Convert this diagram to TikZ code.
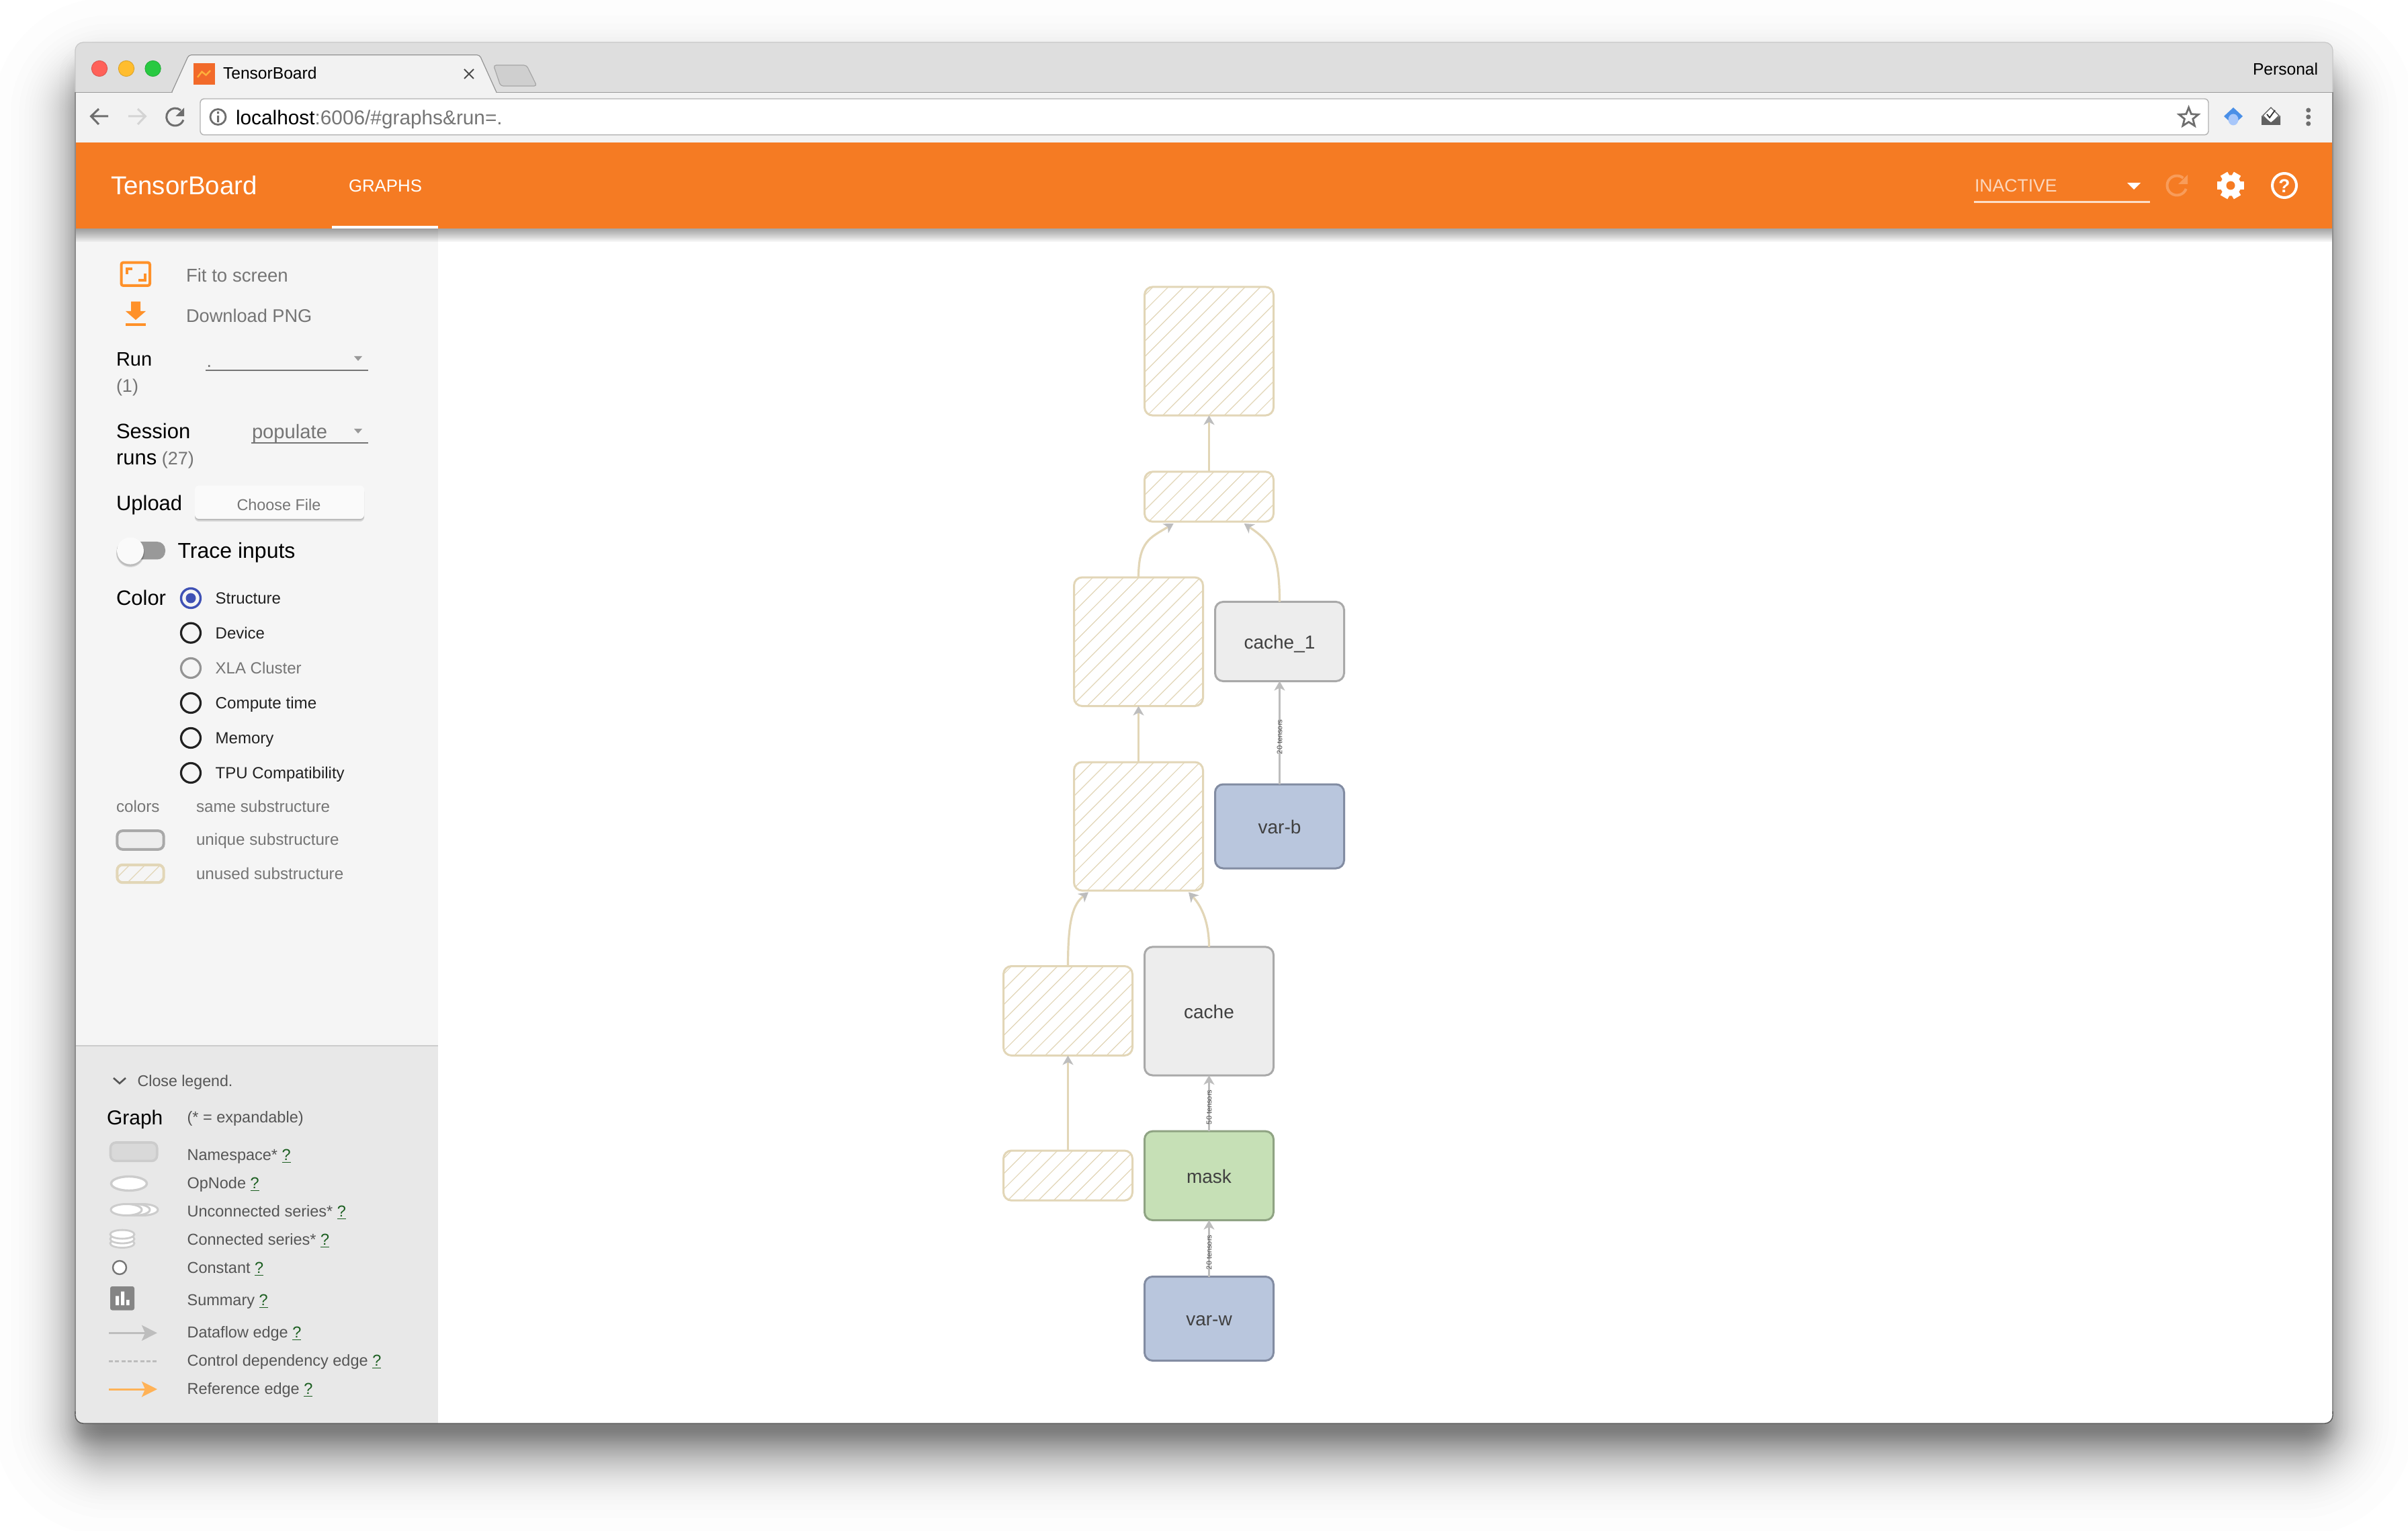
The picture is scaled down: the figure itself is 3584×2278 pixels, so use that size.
\documentclass[tikz,border=0pt]{standalone}
\usepackage{fontspec}
\setmainfont{Liberation Sans}
\usetikzlibrary{arrows.meta,calc}
\definecolor{orangebar}{HTML}{F57B23}
\definecolor{tabbar}{HTML}{DEDEDE}
\definecolor{toolbar}{HTML}{F2F2F2}
\definecolor{side}{HTML}{F5F5F5}
\definecolor{legendbg}{HTML}{E8E8E8}
\definecolor{greytext}{HTML}{757575}
\definecolor{legtext}{HTML}{555555}
\definecolor{icon}{HTML}{6E6E6E}
\definecolor{accent}{HTML}{FF9129}
\definecolor{hatchc}{HTML}{E2D6B7}
\definecolor{nodegrey}{HTML}{EDEDED}
\definecolor{nodegreyd}{HTML}{A9A9A9}
\definecolor{nodeblue}{HTML}{B9C6DD}
\definecolor{nodeblued}{HTML}{828CA2}
\definecolor{nodegreen}{HTML}{C6E0B6}
\definecolor{nodegreend}{HTML}{8FA383}
\definecolor{edgegrey}{HTML}{BDBDBD}
\definecolor{lnkgreen}{HTML}{1B5E20}
\definecolor{radioblue}{HTML}{3F51B5}
\definecolor{radiodark}{HTML}{212121}
\definecolor{refedge}{HTML}{FFB257}
\definecolor{tlred}{HTML}{FF6159}
\definecolor{tlyellow}{HTML}{FFBD2E}
\definecolor{tlgreen}{HTML}{28C941}
\newcommand{\lnk}{\textcolor{lnkgreen}{\underline{?}}}
% name, x, centre y, size in pt, colour, text
\newcommand{\Tl}[6]{\node[txt,text=#5,font={\fontsize{#4}{#4}\selectfont},anchor=base west] (#1) at ({#2},{#3+0.72*#4}) {#6};}
\newcommand{\Tc}[6]{\node[txt,text=#5,font={\fontsize{#4}{#4}\selectfont},anchor=base] (#1) at ({#2},{#3+0.72*#4}) {#6};}
% name, x1, y1, x2, y2, style, text
\newcommand{\Gn}[7]{\node[gbox,#6,minimum width={(#4-#2-3)*0.5pt},minimum height={(#5-#3-3)*0.5pt}] (#1) at ({(#2+#4)/2},{(#3+#5)/2}) {#7};}
% x1, y1, x2, y2, corner radius: lines on one page-wide phase, clipped to the box
\newcommand{\Hatch}[5]{\begin{scope}
  \clip[rounded corners=#5] ({#1+1.5},{#2+1.5}) rectangle ({#3-1.5},{#4-1.5});
  \pgfmathtruncatemacro{\kmin}{floor((#1+#2-17)/22.86)}
  \pgfmathtruncatemacro{\kmax}{ceil((#3+#4-17)/22.86)}
  \foreach \k in {\kmin,...,\kmax}{
    \draw[hatchc,line width=0.6pt] ({\k*22.86+17-(#2)},#2) -- ({\k*22.86+17-(#4)},#4);
  }
\end{scope}}
\newcommand{\Gu}[5]{\Hatch{#2}{#3}{#4}{#5}{6pt}\Gn{#1}{#2}{#3}{#4}{#5}{unused}{}}
\newcommand{\Leg}[3]{\Tl{#1}{278.6}{#2}{11.75}{legtext}{#3}}
\newcommand{\Radio}[3]{\draw[line width=1.6pt,draw=#3] (284,#2) circle[radius=14.5];\coordinate (#1) at (284,#2);}
\tikzset{
  txt/.style={inner sep=0pt,outer sep=0pt},
  gbox/.style={draw,line width=1.5pt,rounded corners=6pt,inner sep=0pt,outer sep=0pt,
    font={\fontsize{14}{14}\selectfont},text=black!75,text height=10.7pt,text depth=0pt},
  unused/.style={draw=hatchc},
  unique/.style={draw=nodegreyd,fill=nodegrey},
  varnode/.style={draw=nodeblued,fill=nodeblue},
  masknode/.style={draw=nodegreend,fill=nodegreen},
  edgeu/.style={draw=hatchc,line width=1.6pt,-{Stealth[length=7pt,width=8pt,inset=2pt,color=edgegrey]}},
  edgeg/.style={draw=edgegrey,line width=1.75pt,-{Stealth[length=7pt,width=8pt,inset=2pt,color=edgegrey]}},
  edgelabel/.style={inner sep=0pt,outer sep=0pt,rotate=90,text=black!70,font={\fontsize{5.5}{5.5}\selectfont}},
  legarrow/.style={line width=1.5pt,-{Stealth[length=11.5pt,width=11.5pt,inset=2.5pt]}}
}
\begin{document}
\begin{tikzpicture}[x=0.5pt,y=-0.5pt]
\useasboundingbox (0,0) rectangle (3584,2278);
\fill[white] (0,0) rectangle (3584,2278);
% window shadow: a wide and a narrow soft layer
\begin{scope}
\clip (0,0) rectangle (3584,2278);
\foreach \i in {1,...,60}{
  \pgfmathsetmacro{\d}{40*ln((\i-0.5)/(60-\i+0.5))/1.7}
  \pgfmathsetmacro{\rr}{0.5*max(4,60+\d)}
  \fill[black,fill opacity=0.00741,rounded corners=\rr pt]
    ({102-\d},{109-\d}) rectangle ({3482+\d},{2173+\d});
}
\foreach \i in {1,...,14}{
  \pgfmathsetmacro{\d}{12*ln((\i-0.5)/(14-\i+0.5))/1.7}
  \pgfmathsetmacro{\rr}{0.5*max(4,20+\d)}
  \fill[black,fill opacity=0.0075,rounded corners=\rr pt]
    ({112-\d},{90-\d}) rectangle ({3472+\d},{2143+\d});
}
\end{scope}
\begin{scope}
\clip[rounded corners=6pt] (112,63) rectangle (3472,2118);
\fill[white] (112,63) rectangle (3472,2118);
\fill[tabbar] (112,63) rectangle (3472,137);
\fill[toolbar] (112,137) rectangle (3472,212);
\draw[black!40,line width=0.6pt] (112,137.5) -- (3472,137.5);
\fill[side] (112,340) rectangle (652,1556);
\fill[legendbg] (112,1556) rectangle (652,2118);
\draw[black!20,line width=1pt] (112,1556) -- (652,1556);
\foreach \h in {2,4,...,20}{\fill[black,fill opacity=0.04] (112,340) rectangle (3472,340+\h);}
\fill[orangebar] (112,212) rectangle (3472,340);
\end{scope}
\draw[black!22,line width=0.6pt,rounded corners=6pt] (112,137) -- (112,63) -- (3472,63) -- (3472,137);
\draw[black!45,line width=0.6pt] (112,137) -- (112,2104) (3472,137) -- (3472,2104);
\draw[black!65,line width=0.7pt,rounded corners=6pt] (112,2100) -- (112,2118) -- (3472,2118) -- (3472,2100);
% traffic lights
\draw[tlred!85!black,fill=tlred,line width=0.4pt] (148,102) circle[radius=11.7];
\draw[tlyellow!85!black,fill=tlyellow,line width=0.4pt] (188,102) circle[radius=11.7];
\draw[tlgreen!85!black,fill=tlgreen,line width=0.4pt] (227.6,102) circle[radius=11.7];
% tab
\draw[black!42,fill=toolbar,line width=0.6pt,rounded corners=2pt] (255.6,137.5) -- (281,81.7) -- (713.8,81.7) -- (739,137.5);
\fill[toolbar] (257,136) rectangle (738,139);
\fill[fill={rgb,255:red,242;green,106;blue,42}] (288,94) rectangle (320,126);
\draw[draw={rgb,255:red,255;green,176;blue,59},line width=1.2pt] (294,115) -- (300.5,106.7) -- (306.6,111.7) -- (313,105);
\Tl{tabtitle}{332}{109}{12.3}{black}{TensorBoard}
\draw[black!70,line width=1pt] (691,103) -- (705,117) (705,103) -- (691,117);
\draw[black!35,fill=black!19,line width=0.6pt,rounded corners=2pt] (734.5,97) -- (783.7,97) -- (799,128) -- (745,128) -- cycle;
\Tl{personal}{3353}{103}{12.3}{black}{Personal}
% toolbar
\draw[icon,line width=1.5pt] (161,173) -- (136,173) (147,162) -- (135.5,173) -- (147,185);
\draw[black!17,line width=1.5pt] (191,173) -- (216,173) (205,162) -- (216.5,173) -- (205,185);
\draw[icon,line width=1.5pt] (260.7,174) ++(-50:13) arc[start angle=-50,end angle=-340,radius=13];
\fill[icon] (274,160.5) -- (274,173) -- (261.5,173) -- cycle;
\draw[black!30,fill=white,line width=0.7pt,rounded corners=3pt] (298,147) rectangle (3287,200.7);
\draw[icon,line width=1.4pt] (324.5,174) circle[radius=11.5];
\fill[icon] (323,172) rectangle (326,182) (323,166) rectangle (326,169.5);
\Tl{url}{351}{175}{14.9}{black}{localhost\textcolor{greytext}{:6006/\#graphs\&run=.}}
\draw[icon,fill=white,line width=1.4pt,line join=miter] (3257.6,160)
  \foreach \i [evaluate=\i as \r using {mod(\i,2)==0?15:6.5}] in {1,...,9}{ -- ({3257.6+\r*cos(-90+36*\i)},{175+\r*sin(-90+36*\i)})} -- cycle;
\fill[fill={rgb,255:red,74;green,143;blue,231}] (3324,160) -- (3338,173) -- (3324,186) -- (3310,173) -- cycle;
\fill[fill={rgb,255:red,168;green,199;blue,250}] (3324,178) ellipse[x radius=7.5,y radius=8.5];
\draw[black!65,fill=white,line width=0.6pt] (3380,160) -- (3392,172) -- (3380,184) -- (3368,172) -- cycle;
\draw[black!80,line width=0.9pt] (3374,170) -- (3378,175) -- (3386,164);
\fill[black!62] (3366,172) -- (3380,182) -- (3394,172) -- (3394,186) -- (3366,186) -- cycle;
\foreach \yy in {164,174,184}{\fill[icon] (3435.7,\yy) circle[radius=3.5];}
% header
\Tl{brand}{165}{276}{19.2}{white}{TensorBoard}
\Tl{graphs}{519}{276}{12.9}{white}{GRAPHS}
\fill[white] (494,336) rectangle (652,340);
\Tl{inactive}{2939}{276}{13.3}{white!70!orangebar}{INACTIVE}
\draw[white!75!orangebar,line width=1.4pt] (2938,300.7) -- (3200,300.7);
\fill[white] (3166,272) -- (3186,272) -- (3176,282) -- cycle;
\draw[white!25!orangebar,line width=2pt] (3240,276) ++(-50:14.5) arc[start angle=-50,end angle=-340,radius=14.5];
\fill[white!25!orangebar] (3256,260) -- (3256,274) -- (3242,274) -- cycle;
\foreach \a in {30,90,150,210,270,330}{\fill[white,rotate around={\a:(3320,276)}] (3314,276) rectangle (3326,256);}
\fill[white] (3320,276) circle[radius=15.5];
\fill[orangebar] (3320,276) circle[radius=6.5];
\draw[white,line width=2pt] (3400,276) circle[radius=18];
\Tc{helpq}{3400}{276}{14}{white}{\textbf{?}}
% sidebar controls
\draw[accent,line width=2pt,rounded corners=1.5pt] (180.5,390.6) rectangle (223,425);
\draw[accent,line width=2pt] (188.5,408) -- (188.5,400) -- (197,400) (216,407) -- (216,417) -- (206,417);
\Tl{fit}{277}{410}{13.8}{greytext}{Fit to screen}
\fill[accent] (195,448.6) rectangle (209,463) (187,463) -- (217,463) -- (202,476) -- cycle;
\fill[accent] (187,481.4) rectangle (217,485);
\Tl{download}{277}{469.6}{13.6}{greytext}{Download PNG}
\Tl{runl}{173}{534}{14.5}{black}{Run}
\Tl{runn}{173}{573.6}{13.5}{greytext}{(1)}
\draw[greytext,line width=1pt] (306,551) -- (548,551);
\Tl{rundot}{307.5}{537}{13.5}{greytext}{.}
\fill[black!40] (527,530) -- (539,530) -- (533,537) -- cycle;
\Tl{sess}{173}{641}{15.5}{black}{Session}
\Tl{sessb}{173}{680}{15.5}{black}{runs\textcolor{greytext}{\fontsize{13.5}{13.5}\selectfont\ (27)}}
\Tl{populate}{375}{642}{14.6}{greytext}{populate}
\draw[greytext,line width=1pt] (374,658.6) -- (548,658.6);
\fill[black!40] (527,638) -- (539,638) -- (533,645) -- cycle;
\Tl{upload}{173}{748.6}{15.5}{black}{Upload}
\fill[black,fill opacity=0.12,rounded corners=3pt] (290,726) rectangle (542,776);
\fill[black,fill opacity=0.12,rounded corners=3pt] (290,725) rectangle (542,774);
\fill[fill=white!50!side,rounded corners=3pt] (290,722.5) rectangle (542,772);
\Tc{choose}{415}{751}{11.7}{greytext}{Choose File}
\fill[fill=black!40,rounded corners=6pt] (174,806) rectangle (246,832.5);
\fill[black,fill opacity=0.12] (194,823) circle[radius=21];
\fill[black,fill opacity=0.12] (194,822) circle[radius=20.5];
\fill[fill=white!98!black] (194,819.6) circle[radius=20];
\Tl{trace}{264.6}{819}{16}{black}{Trace inputs}
\Tl{colorl}{173}{889}{15.5}{black}{Color}
\draw[radioblue,line width=1.7pt] (284,890) circle[radius=14.5];
\fill[radioblue] (284,890) circle[radius=7.5];
\Tl{r1}{320.7}{890}{12}{radiodark}{Structure}
\Radio{c2}{941.7}{radiodark}\Tl{r2}{320.7}{941.7}{12}{radiodark}{Device}
\Radio{c3}{994}{black!42}\Tl{r3}{320.7}{994}{12}{greytext}{XLA Cluster}
\Radio{c4}{1046}{radiodark}\Tl{r4}{320.7}{1046}{12.1}{radiodark}{Compute time}
\Radio{c5}{1098}{radiodark}\Tl{r5}{320.7}{1098}{12}{radiodark}{Memory}
\Radio{c6}{1150}{radiodark}\Tl{r6}{320.7}{1150}{12}{radiodark}{TPU Compatibility}
\Tl{colors}{173}{1200}{12.1}{greytext}{colors}
\Tl{same}{292}{1200}{12.1}{greytext}{same substructure}
\Tl{uniq}{292}{1249}{12.1}{greytext}{unique substructure}
\Tl{unus}{292}{1299.3}{12.1}{greytext}{unused substructure}
\node[draw=nodegreyd,fill=nodegrey,line width=2pt,rounded corners=4pt,minimum width=34.6pt,minimum height=13.8pt,inner sep=0pt,outer sep=0pt] (swa) at (209,1250) {};
\Hatch{173}{1286}{245}{1314}{4pt}
\node[draw=hatchc,line width=2pt,rounded corners=4pt,minimum width=34.6pt,minimum height=13.2pt,inner sep=0pt,outer sep=0pt] (swb) at (209,1300) {};
% legend
\draw[legtext,line width=1.3pt] (169,1604) -- (178,1612) -- (187,1604);
\Tl{close}{204.6}{1608}{11.6}{legtext}{Close legend.}
\Tl{graphl}{159}{1662.5}{15}{black}{Graph}
\Leg{expl}{1661.7}{(* = expandable)}
\Leg{l1}{1718}{Namespace* \lnk}
\Leg{l2}{1760}{OpNode \lnk}
\Leg{l3}{1802}{Unconnected series* \lnk}
\Leg{l4}{1844}{Connected series* \lnk}
\Leg{l5}{1886}{Constant \lnk}
\Leg{l6}{1934}{Summary \lnk}
\Leg{l7}{1982}{Dataflow edge \lnk}
\Leg{l8}{2024}{Control dependency edge \lnk}
\Leg{l9}{2066}{Reference edge \lnk}
\draw[black!20,fill=black!15,line width=1.8pt,rounded corners=4pt] (164.5,1700) rectangle (233.7,1727.4);
\draw[black!20,fill=white,line width=1.7pt] (192,1761) ellipse[x radius=26.5,y radius=10.5];
\draw[black!20,fill=white,line width=1.5pt] (212,1800) ellipse[x radius=23,y radius=8.5];
\draw[black!20,fill=white,line width=1.5pt] (200,1800) ellipse[x radius=23,y radius=8.5];
\draw[black!20,fill=white,line width=1.5pt] (188,1800) ellipse[x radius=23,y radius=8.5];
\foreach \yy in {1850,1843.5,1836.6}{\draw[black!20,fill=white,line width=1.4pt] (182,\yy) ellipse[x radius=18,y radius=6.5];}
\draw[greytext,fill=white,line width=1.2pt] (178,1886) circle[radius=10];
\fill[fill=black!48,rounded corners=1.5pt] (164,1914) rectangle (200,1949.5);
\fill[white] (172,1928.4) rectangle (177,1942) (180,1921.5) rectangle (185,1942) (188,1934) rectangle (192.5,1942);
\coordinate (a1s) at (162,1983.3); \coordinate (a1e) at (234,1983.3);
\coordinate (a2s) at (162,2025); \coordinate (a2e) at (234,2025);
\coordinate (a3s) at (162,2067); \coordinate (a3e) at (234,2067);
\draw[legarrow,edgegrey] (a1s) -- (a1e);
\draw[edgegrey,line width=1.5pt,dash pattern=on 3pt off 1.65pt] (a2s) -- (a2e);
\draw[legarrow,refedge] (a3s) -- (a3e);
% graph
\Gu{A}{1702}{425.4}{1897}{619.6}
\Gu{B}{1702}{700.4}{1897}{777.7}
\Gu{C}{1597}{857.6}{1792}{1052}
\Gu{D}{1597}{1132.5}{1792}{1326.6}
\Gu{E}{1492}{1436}{1687}{1572}
\Gu{F}{1492}{1710.5}{1687}{1787.7}
\Gn{cacheone}{1807}{894}{2002}{1015}{unique}{cache\_1}
\Gn{varb}{1807}{1165.5}{2002}{1293.5}{varnode}{var-b}
\Gn{cache}{1702}{1407.4}{1897}{1601.5}{unique}{cache}
\Gn{mask}{1702}{1681.7}{1897}{1817}{masknode}{mask}
\Gn{varw}{1702}{1898}{1897}{2026}{varnode}{var-w}
\coordinate (Bl) at (1746.7,779);
\coordinate (Br) at (1851.7,779);
\coordinate (Dl) at (1620,1327.5);
\coordinate (Dr) at (1769,1327.5);
\draw[edgeu] (B.north) -- (A.south);
\draw[edgeu] (C.north) .. controls (1694.5,805) and (1712,800) .. (Bl);
\draw[edgeu] (cacheone.north) .. controls (1904.5,820) and (1890,805) .. (Br);
\draw[edgeu] (D.north) -- (C.south);
\draw[edgeu] (E.north) .. controls (1589.5,1365) and (1598,1345) .. (Dl);
\draw[edgeu] (cache.north) .. controls (1799.5,1375) and (1790,1350) .. (Dr);
\draw[edgeu] (F.north) -- (E.south);
\draw[edgeg] (varb.north) -- (cacheone.south) node[edgelabel,pos=0.46] (lb) {20 tensors};
\draw[edgeg] (mask.north) -- (cache.south) node[edgelabel,pos=0.43] (lc) {50 tensors};
\draw[edgeg] (varw.north) -- (mask.south) node[edgelabel,pos=0.43] (lw) {20 tensors};
\end{tikzpicture}
\end{document}
